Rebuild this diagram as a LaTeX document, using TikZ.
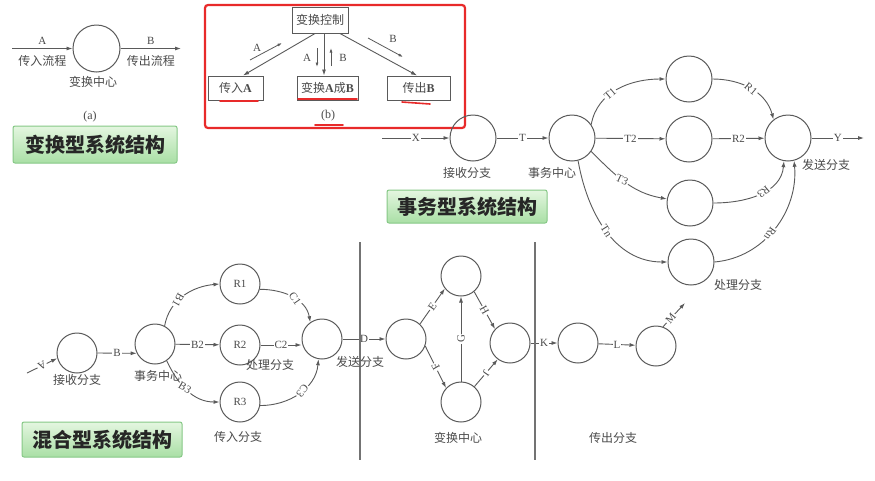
\documentclass[tikz,border=0pt]{standalone}
\usepackage{fontspec}
\setmainfont{Liberation Serif}
\newfontfamily\cjk{Noto Sans CJK SC}
\usetikzlibrary{arrows.meta}
\definecolor{linec}{HTML}{5A5A5A}
\definecolor{textc}{HTML}{4A4A4A}
\definecolor{markred}{HTML}{E82A2A}
\definecolor{ttltop}{HTML}{E4F6E0}
\definecolor{ttlbot}{HTML}{A9DFA5}
\definecolor{ttlrim}{HTML}{86C886}

\begin{document}
\begin{tikzpicture}[x=1pt,y=-1pt,
  arr/.style={draw=linec, line width=0.9pt, -{Latex[length=6pt,width=4pt]}},
  sarr/.style={draw=linec, line width=0.8pt, -{Latex[length=4.5pt,width=3pt]}},
  bub/.style={circle, draw=linec, line width=1pt, minimum size=46pt, inner sep=0pt},
  sbub/.style={bub, minimum size=40pt, font=\fontsize{11}{12}\selectfont, text=textc},
  lab/.style={fill=white, inner sep=1pt, font=\fontsize{11}{12}\selectfont, text=textc},
  nametext/.style={inner sep=0pt, font=\cjk\fontsize{12}{14}\selectfont, text=textc},
  headbox/.style={draw=ttlrim, line width=1pt, rounded corners=2pt, top color=ttltop,
    bottom color=ttlbot, inner sep=0pt, font=\cjk\bfseries\fontsize{20}{24}\selectfont, text=black!85},
  ctlbox/.style={draw=linec, line width=1pt, inner sep=0pt, minimum height=24pt,
    font=\fontsize{12}{14}\selectfont, text=textc},
  redline/.style={draw=markred, line width=1.6pt, line cap=round},
  rule/.style={draw=linec!85, line width=1.1pt},
]
\fill[white] (0,0) rectangle (875,480);
\useasboundingbox (0,0) rectangle (875,480);

% ---------- (a) transform flow ----------
\node[bub, minimum size=47pt] (ac) at (96.5,48.5) {};
\coordinate (ain) at (12,48.5);
\coordinate (aout) at (181,48.5);
\draw[arr] (ain) -- node[lab, fill=none, above=3pt]{A} node[nametext, below=6pt]{传入流程} (ac);
\draw[arr] (ac) -- node[lab, fill=none, above=3pt]{B} node[nametext, below=6pt]{传出流程} (aout);
\node[nametext] (acap) at (93,82) {变换中心};
\node[nametext, font=\fontsize{12}{14}\selectfont] (alab) at (90,117) {(a)};
\node[headbox, minimum width=164pt, minimum height=37pt] (h1) at (95,144.5) {变换型系统结构};

% ---------- (b) control structure ----------
\draw[draw=markred, line width=2.2pt, rounded corners=3pt] (205,5) rectangle (465,128);
\node[ctlbox, minimum width=56pt, minimum height=26pt] (ctl) at (320,20) {{\cjk 变换控制}};
\node[ctlbox, minimum width=55pt] (inA) at (235.5,88) {{\cjk 传入}\textbf{A}};
\node[ctlbox, minimum width=61pt] (tAB) at (327.5,88) {{\cjk 变换}\textbf{A}{\cjk 成}\textbf{B}};
\node[ctlbox, minimum width=63pt] (outB) at (418.5,88) {{\cjk 传出}\textbf{B}};
\draw[arr] ([xshift=-5pt]ctl.south) -- ([xshift=7.5pt]inA.north);
\draw[arr] ([xshift=4pt]ctl.south) -- ([xshift=4pt]ctl.south |- tAB.north);
\draw[arr] ([xshift=20pt]ctl.south) -- ([xshift=-1.5pt]outB.north);

\coordinate (fa1) at (250,60);  \coordinate (fa2) at (282,43);
\coordinate (fd1) at (317,48);  \coordinate (fd2) at (317,67);
\coordinate (fu1) at (331,66);  \coordinate (fu2) at (331,48);
\coordinate (fb1) at (368,38);  \coordinate (fb2) at (403,57);
\draw[sarr] (fa1) -- (fa2);
\draw[sarr] (fd1) -- (fd2);
\draw[sarr] (fu1) -- (fu2);
\draw[sarr] (fb1) -- (fb2);
\node[lab, fill=none] (fal) at (257,48) {A};
\node[lab, fill=none] (fdl) at (307,58) {A};
\node[lab, fill=none] (ful) at (343,58) {B};
\node[lab, fill=none] (fbl) at (393,39) {B};
\node[nametext, font=\fontsize{12}{14}\selectfont] (blab) at (328,116) {(b)};

\coordinate (u1a) at (220,101); \coordinate (u1b) at (258,101);
\coordinate (u2a) at (298,99);  \coordinate (u2b) at (357,99);
\coordinate (u3a) at (402,102); \coordinate (u3b) at (430,104);
\coordinate (u4a) at (315,125); \coordinate (u4b) at (343,125);
\draw[redline] (u1a) -- (u1b);
\draw[redline] (u2a) -- (u2b);
\draw[redline] (u3a) -- (u3b);
\draw[redline] (u4a) -- (u4b);

% ---------- transaction structure ----------
\node[bub] (ta) at (473,138) {};
\node[bub] (tc) at (572,138) {};
\node[bub] (p1) at (689,79) {};
\node[bub] (p2) at (689,139) {};
\node[bub] (p3) at (690,203) {};
\node[bub] (p4) at (691,262) {};
\node[bub] (ts) at (788,138) {};
\coordinate (tx) at (382,138);
\coordinate (ty) at (864,138);
\draw[arr] (tx) -- node[lab]{X} (ta);
\draw[arr] (ta) -- node[lab]{T} (tc);
\draw[arr] (tc.35) to[out=80,in=180] node[lab, pos=0.4, rotate=40]{T1} (p1.west);
\draw[arr] (tc) -- node[lab]{T2} (p2);
\draw[arr] (tc.-35) to[out=-45,in=170] node[lab, pos=0.45, rotate=-25]{T3} (p3.170);
\draw[arr] (tc.-75) to[out=-80,in=180] node[lab, pos=0.5, rotate=-58]{Tn} (p4.west);
\draw[arr] (p1.east) to[out=0,in=105] node[lab, pos=0.5, rotate=-40]{R1} (ts.128);
\draw[arr] (p2) -- node[lab]{R2} (ts);
\draw[arr] (p3.east) to[out=0,in=-95] node[lab, pos=0.55, rotate=220]{R3} (ts.-100);
\draw[arr] (p4.east) to[out=5,in=-85] node[lab, pos=0.45, rotate=235]{Rn} (ts.-75);
\draw[arr] (ts) -- node[lab]{Y} (ty);
\node[nametext] (tacap) at (467,173) {接收分支};
\node[nametext] (tccap) at (552,173) {事务中心};
\node[nametext] (tscap) at (826,165) {发送分支};
\node[nametext] (pcap) at (738,285) {处理分支};
\node[headbox, minimum width=160pt, minimum height=33pt] (h2) at (467,206.5) {事务型系统结构};

% ---------- hybrid structure ----------
\node[sbub] (hr) at (77,353) {};
\node[sbub] (hc) at (155,344) {};
\node[sbub] (r1) at (240,284) {R1};
\node[sbub] (r2) at (240,345) {R2};
\node[sbub] (r3) at (240,402) {R3};
\node[sbub] (hs) at (322,339) {};
\coordinate (hin) at (27,373);
\draw[arr] (hin) -- node[lab, rotate=208]{A} (hr.195);
\draw[arr] (hr.east) -- node[lab]{B} (hc.207);
\draw[arr] (hc.62) to[out=80,in=185] node[lab, pos=0.4, rotate=240]{B1} (r1.west);
\draw[arr] (hc) -- node[lab]{B2} (r2);
\draw[arr] (hc.-55) to[out=-65,in=180] node[lab, pos=0.45, rotate=-30]{B3} (r3.west);
\draw[arr] (r1.-15) to[out=0,in=100] node[lab, pos=0.55, rotate=-55]{C1} (hs.125);
\draw[arr] (r2.east) -- node[lab]{C2} (r2.east -| hs.west);
\draw[arr] (r3.-10) to[out=0,in=-95] node[lab, pos=0.55, rotate=230]{C3} (hs.-100);

\node[sbub] (tl) at (406,339) {};
\node[sbub] (tt) at (461,276) {};
\node[sbub] (tb) at (461,402) {};
\node[sbub] (tr) at (510,343) {};
\draw[arr] (hs) -- node[lab]{D} (tl);
\draw[arr] (tl.47) -- node[lab, rotate=55]{E} (tt.218);
\draw[arr] (tl.-20) -- node[lab, rotate=120]{F} (tb.137);
\draw[arr] (tb) -- node[lab, rotate=90]{G} (tt);
\draw[arr] (tt.-50) -- node[lab, rotate=-60]{H} (tr.137);
\draw[arr] (tb.49) -- node[lab, rotate=235]{J} (tr.233);

\node[sbub] (ok) at (578,343) {};
\node[sbub] (ol) at (656,346) {};
\coordinate (om) at (685,303);
\draw[arr] (tr) -- node[lab]{K} (ok);
\draw[arr] (ok) -- node[lab]{L} (ol);
\draw[arr] (ol.70) -- node[lab, pos=0.35, rotate=50]{M} (om);

\coordinate (v1t) at (360,242); \coordinate (v1b) at (360,460);
\coordinate (v2t) at (535,242); \coordinate (v2b) at (535,460);
\draw[rule] (v1t) -- (v1b);
\draw[rule] (v2t) -- (v2b);

\node[nametext] (hrcap) at (77,380) {接收分支};
\node[nametext] (hccap) at (158,376) {事务中心};
\node[nametext] (r2cap) at (270,365) {处理分支};
\node[nametext] (incap) at (238,437) {传入分支};
\node[nametext] (hscap) at (360,362) {发送分支};
\node[nametext] (tfcap) at (458,438) {变换中心};
\node[nametext] (outcap) at (613,438) {传出分支};
\node[headbox, minimum width=160pt, minimum height=35pt] (h3) at (102,439.5) {混合型系统结构};
\end{tikzpicture}
\end{document}
